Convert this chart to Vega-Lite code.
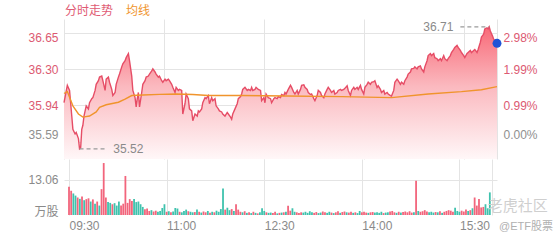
{
 "$schema": "https://vega.github.io/schema/vega-lite/v6.json",
 "padding": {"left": 27, "top": 5, "right": 4, "bottom": 0},
 "spacing": 0,
 "config": {
  "view": {"stroke": null},
  "font": "Liberation Sans, 'Noto Sans CJK SC', sans-serif",
  "axis": {"gridColor": "#e4e4e4", "gridWidth": 1, "domain": false, "ticks": false, "tickSize": 0, "title": null, "labelFontSize": 12, "labelFont": "Liberation Sans, 'Noto Sans CJK SC', sans-serif"}
 },
 "resolve": {"scale": {"color": "independent"}, "legend": {"color": "independent"}},
 "datasets": {
  "price": [
   {"m":0,"p":35.97},{"m":3,"p":36.14},{"m":5,"p":36.09},{"m":7,"p":35.84},{"m":8,"p":35.71},{"m":10,"p":35.665},{"m":11,"p":35.68},{"m":13,"p":35.62},{"m":14,"p":35.52},{"m":15,"p":35.53},{"m":16,"p":35.71},{"m":17,"p":35.75},{"m":18,"p":35.84},{"m":20,"p":35.94},{"m":22,"p":35.91},{"m":23,"p":35.97},{"m":25,"p":36.01},{"m":26,"p":36.02},{"m":28,"p":36.09},{"m":29,"p":36.15},{"m":31,"p":36.185},{"m":32,"p":36.22},{"m":34,"p":36.23},{"m":35,"p":36.185},{"m":37,"p":36.09},{"m":38,"p":36.2},{"m":40,"p":36.22},{"m":41,"p":36.17},{"m":43,"p":36.1},{"m":44,"p":36.04},{"m":46,"p":36.07},{"m":47,"p":36.15},{"m":49,"p":36.22},{"m":50,"p":36.25},{"m":52,"p":36.32},{"m":53,"p":36.35},{"m":55,"p":36.38},{"m":56,"p":36.41},{"m":58,"p":36.45},{"m":59,"p":36.38},{"m":61,"p":36.23},{"m":62,"p":36.09},{"m":64,"p":36.02},{"m":65,"p":35.93},{"m":66,"p":36.01},{"m":67,"p":36.07},{"m":68,"p":35.93},{"m":70,"p":36.07},{"m":71,"p":36.15},{"m":73,"p":36.185},{"m":74,"p":36.22},{"m":76,"p":36.23},{"m":77,"p":36.25},{"m":79,"p":36.28},{"m":80,"p":36.3},{"m":82,"p":36.27},{"m":83,"p":36.25},{"m":85,"p":36.22},{"m":86,"p":36.23},{"m":88,"p":36.185},{"m":89,"p":36.17},{"m":91,"p":36.2},{"m":92,"p":36.185},{"m":94,"p":36.2},{"m":95,"p":36.185},{"m":97,"p":36.15},{"m":98,"p":36.12},{"m":100,"p":36.07},{"m":101,"p":36.12},{"m":103,"p":36.09},{"m":104,"p":36.1},{"m":106,"p":36.09},{"m":107,"p":35.86},{"m":109,"p":35.96},{"m":110,"p":36.055},{"m":112,"p":36.01},{"m":113,"p":35.91},{"m":115,"p":35.89},{"m":116,"p":35.795},{"m":118,"p":35.86},{"m":120,"p":35.84},{"m":121,"p":35.89},{"m":122,"p":35.88},{"m":124,"p":35.91},{"m":125,"p":35.97},{"m":127,"p":36.02},{"m":128,"p":36.01},{"m":130,"p":36.04},{"m":131,"p":35.96},{"m":133,"p":36.02},{"m":134,"p":35.99},{"m":136,"p":36.01},{"m":137,"p":35.94},{"m":139,"p":35.91},{"m":140,"p":35.89},{"m":142,"p":35.88},{"m":143,"p":35.86},{"m":145,"p":35.84},{"m":147,"p":35.875},{"m":148,"p":35.86},{"m":150,"p":35.83},{"m":151,"p":35.81},{"m":152,"p":35.86},{"m":154,"p":35.91},{"m":156,"p":35.96},{"m":157,"p":36.01},{"m":159,"p":36.03},{"m":160,"p":36.055},{"m":161,"p":36.1},{"m":163,"p":36.12},{"m":165,"p":36.09},{"m":166,"p":36.1},{"m":168,"p":36.09},{"m":169,"p":36.12},{"m":170,"p":36.09},{"m":172,"p":36.1},{"m":173,"p":36.12},{"m":175,"p":36.1},{"m":177,"p":36.09},{"m":178,"p":35.99},{"m":180,"p":36.02},{"m":181,"p":35.97},{"m":182,"p":36.055},{"m":184,"p":36.02},{"m":186,"p":36.01},{"m":187,"p":35.97},{"m":189,"p":36.01},{"m":190,"p":36.02},{"m":192,"p":36.01},{"m":193,"p":36.03},{"m":195,"p":36.02},{"m":196,"p":36.05},{"m":198,"p":36.04},{"m":199,"p":36.07},{"m":200,"p":36.055},{"m":202,"p":36.1},{"m":204,"p":36.14},{"m":205,"p":36.12},{"m":207,"p":36.07},{"m":208,"p":36.055},{"m":210,"p":36.09},{"m":211,"p":36.055},{"m":213,"p":36.1},{"m":214,"p":36.14},{"m":216,"p":36.145},{"m":217,"p":36.12},{"m":219,"p":36.1},{"m":220,"p":36.07},{"m":222,"p":36.05},{"m":223,"p":36.055},{"m":225,"p":36.01},{"m":226,"p":35.99},{"m":228,"p":36.04},{"m":229,"p":36.09},{"m":231,"p":36.07},{"m":232,"p":36.04},{"m":234,"p":36.02},{"m":235,"p":36.055},{"m":237,"p":36.1},{"m":238,"p":36.12},{"m":240,"p":36.09},{"m":241,"p":36.07},{"m":243,"p":36.09},{"m":244,"p":36.055},{"m":246,"p":36.07},{"m":247,"p":36.09},{"m":249,"p":36.1},{"m":250,"p":36.09},{"m":252,"p":36.1},{"m":253,"p":36.11},{"m":255,"p":36.135},{"m":256,"p":36.09},{"m":258,"p":36.04},{"m":259,"p":36.09},{"m":261,"p":36.12},{"m":262,"p":36.1},{"m":264,"p":36.12},{"m":265,"p":36.1},{"m":267,"p":36.14},{"m":268,"p":36.1},{"m":270,"p":36.055},{"m":271,"p":36.12},{"m":273,"p":36.15},{"m":274,"p":36.17},{"m":276,"p":36.15},{"m":277,"p":36.17},{"m":279,"p":36.175},{"m":280,"p":36.185},{"m":282,"p":36.12},{"m":283,"p":36.135},{"m":285,"p":36.1},{"m":286,"p":36.07},{"m":288,"p":36.09},{"m":289,"p":36.055},{"m":291,"p":36.07},{"m":292,"p":36.055},{"m":294,"p":36.04},{"m":295,"p":36.035},{"m":297,"p":36.09},{"m":298,"p":36.17},{"m":300,"p":36.2},{"m":301,"p":36.185},{"m":303,"p":36.15},{"m":304,"p":36.17},{"m":306,"p":36.15},{"m":307,"p":36.185},{"m":309,"p":36.22},{"m":310,"p":36.25},{"m":312,"p":36.27},{"m":313,"p":36.3},{"m":315,"p":36.305},{"m":316,"p":36.32},{"m":318,"p":36.3},{"m":319,"p":36.32},{"m":321,"p":36.33},{"m":322,"p":36.3},{"m":324,"p":36.27},{"m":325,"p":36.32},{"m":327,"p":36.38},{"m":328,"p":36.43},{"m":330,"p":36.45},{"m":331,"p":36.43},{"m":333,"p":36.45},{"m":334,"p":36.41},{"m":336,"p":36.4},{"m":337,"p":36.38},{"m":339,"p":36.4},{"m":340,"p":36.38},{"m":342,"p":36.43},{"m":343,"p":36.4},{"m":345,"p":36.38},{"m":346,"p":36.4},{"m":348,"p":36.43},{"m":349,"p":36.46},{"m":351,"p":36.49},{"m":352,"p":36.51},{"m":354,"p":36.53},{"m":355,"p":36.51},{"m":357,"p":36.48},{"m":358,"p":36.46},{"m":360,"p":36.43},{"m":361,"p":36.41},{"m":363,"p":36.45},{"m":364,"p":36.46},{"m":366,"p":36.48},{"m":367,"p":36.46},{"m":369,"p":36.48},{"m":370,"p":36.49},{"m":372,"p":36.46},{"m":373,"p":36.49},{"m":375,"p":36.56},{"m":376,"p":36.61},{"m":378,"p":36.64},{"m":379,"p":36.69},{"m":381,"p":36.7},{"m":382,"p":36.69},{"m":383,"p":36.71},{"m":384,"p":36.67},{"m":386,"p":36.62},{"m":387,"p":36.59},{"m":390,"p":36.55}
  ],
  "avg": [
   {"m":0,"a":36.06},{"m":3,"a":36.08},{"m":8,"a":35.94},{"m":13,"a":35.86},{"m":17,"a":35.83},{"m":23,"a":35.84},{"m":29,"a":35.88},{"m":32,"a":35.925},{"m":38,"a":35.95},{"m":49,"a":35.975},{"m":55,"a":36.005},{"m":61,"a":36.04},{"m":71,"a":36.046},{"m":86,"a":36.052},{"m":101,"a":36.055},{"m":116,"a":36.05},{"m":130,"a":36.04},{"m":160,"a":36.04},{"m":200,"a":36.035},{"m":250,"a":36.03},{"m":295,"a":36.02},{"m":328,"a":36.055},{"m":358,"a":36.078},{"m":376,"a":36.097},{"m":390,"a":36.127}
  ],
  "extremes": [
   {"m":14,"m2":39,"p":35.52,"label":"35.52","kind":"low"},
   {"m":357,"m2":383,"p":36.71,"label":"36.71","kind":"high"}
  ],
  "vol": [
   {"m":0,"v":10.5,"d":"u"},{"m":2,"v":9.0,"d":"u"},{"m":4,"v":8.0,"d":"d"},{"m":6,"v":7.2,"d":"d"},{"m":8,"v":6.5,"d":"u"},{"m":10,"v":6.0,"d":"d"},{"m":12,"v":6.9,"d":"u"},{"m":14,"v":5.5,"d":"d"},{"m":16,"v":5.9,"d":"u"},{"m":18,"v":6.2,"d":"u"},{"m":20,"v":5.0,"d":"d"},{"m":22,"v":5.8,"d":"u"},{"m":24,"v":4.2,"d":"d"},{"m":26,"v":5.0,"d":"u"},{"m":28,"v":3.5,"d":"d"},{"m":30,"v":9.6,"d":"u"},{"m":32,"v":19.3,"d":"u"},{"m":34,"v":6.5,"d":"u"},{"m":36,"v":4.8,"d":"d"},{"m":38,"v":4.5,"d":"d"},{"m":40,"v":4.0,"d":"u"},{"m":42,"v":4.4,"d":"d"},{"m":44,"v":3.5,"d":"d"},{"m":46,"v":5.0,"d":"d"},{"m":48,"v":3.5,"d":"u"},{"m":50,"v":4.2,"d":"u"},{"m":52,"v":14.5,"d":"u"},{"m":54,"v":4.5,"d":"u"},{"m":56,"v":5.9,"d":"u"},{"m":58,"v":5.2,"d":"u"},{"m":60,"v":5.9,"d":"d"},{"m":62,"v":4.8,"d":"d"},{"m":64,"v":5.0,"d":"d"},{"m":66,"v":4.0,"d":"d"},{"m":68,"v":3.0,"d":"d"},{"m":70,"v":2.1,"d":"u"},{"m":72,"v":2.4,"d":"u"},{"m":74,"v":1.5,"d":"u"},{"m":76,"v":1.8,"d":"d"},{"m":78,"v":1.3,"d":"u"},{"m":80,"v":1.6,"d":"u"},{"m":82,"v":1.2,"d":"d"},{"m":84,"v":1.5,"d":"d"},{"m":86,"v":2.6,"d":"d"},{"m":88,"v":4.0,"d":"d"},{"m":90,"v":1.2,"d":"u"},{"m":92,"v":1.4,"d":"d"},{"m":94,"v":1.0,"d":"u"},{"m":96,"v":1.3,"d":"d"},{"m":98,"v":2.6,"d":"d"},{"m":100,"v":2.4,"d":"d"},{"m":102,"v":1.2,"d":"u"},{"m":104,"v":1.0,"d":"d"},{"m":106,"v":1.5,"d":"d"},{"m":108,"v":2.0,"d":"d"},{"m":110,"v":1.4,"d":"u"},{"m":112,"v":1.2,"d":"d"},{"m":114,"v":1.0,"d":"d"},{"m":116,"v":1.1,"d":"u"},{"m":118,"v":2.0,"d":"d"},
   {"m":120,"v":1.2,"d":"u"},{"m":122,"v":0.9,"d":"d"},{"m":124,"v":1.3,"d":"u"},{"m":126,"v":1.0,"d":"u"},{"m":128,"v":1.5,"d":"d"},{"m":130,"v":0.8,"d":"u"},{"m":132,"v":1.2,"d":"d"},{"m":134,"v":1.0,"d":"u"},{"m":136,"v":1.6,"d":"d"},{"m":138,"v":1.2,"d":"d"},{"m":140,"v":2.2,"d":"d"},{"m":142,"v":9.8,"d":"d"},{"m":144,"v":2.0,"d":"u"},{"m":146,"v":2.7,"d":"d"},{"m":148,"v":1.8,"d":"d"},{"m":150,"v":2.2,"d":"u"},{"m":152,"v":1.5,"d":"d"},{"m":154,"v":4.0,"d":"u"},{"m":156,"v":2.0,"d":"u"},{"m":158,"v":1.2,"d":"u"},{"m":160,"v":1.0,"d":"d"},{"m":162,"v":1.4,"d":"u"},{"m":164,"v":0.8,"d":"d"},{"m":166,"v":1.0,"d":"u"},{"m":168,"v":0.7,"d":"d"},{"m":170,"v":1.2,"d":"u"},{"m":172,"v":0.8,"d":"d"},{"m":174,"v":0.6,"d":"u"},{"m":176,"v":1.0,"d":"d"},{"m":178,"v":2.5,"d":"d"},{"m":180,"v":1.5,"d":"d"},{"m":182,"v":1.0,"d":"u"},{"m":184,"v":0.8,"d":"d"},{"m":186,"v":0.9,"d":"d"},{"m":188,"v":0.7,"d":"u"},{"m":190,"v":1.2,"d":"u"},{"m":192,"v":0.6,"d":"d"},{"m":194,"v":0.8,"d":"u"},{"m":196,"v":0.9,"d":"d"},{"m":198,"v":1.0,"d":"u"},{"m":200,"v":1.2,"d":"d"},{"m":202,"v":3.4,"d":"u"},{"m":204,"v":1.6,"d":"u"},{"m":206,"v":2.5,"d":"d"},{"m":208,"v":1.2,"d":"d"},{"m":210,"v":1.0,"d":"u"},{"m":212,"v":0.7,"d":"u"},{"m":214,"v":1.0,"d":"u"},{"m":216,"v":0.9,"d":"d"},{"m":218,"v":1.2,"d":"d"},{"m":220,"v":0.8,"d":"d"},{"m":222,"v":1.4,"d":"d"},{"m":224,"v":1.0,"d":"d"},{"m":226,"v":0.8,"d":"u"},{"m":228,"v":1.1,"d":"u"},{"m":230,"v":0.7,"d":"d"},{"m":232,"v":0.9,"d":"d"},{"m":234,"v":1.3,"d":"u"},{"m":236,"v":1.0,"d":"u"},{"m":238,"v":0.8,"d":"d"},{"m":240,"v":1.2,"d":"d"},{"m":242,"v":0.9,"d":"u"},{"m":244,"v":0.7,"d":"d"},{"m":246,"v":1.0,"d":"u"},{"m":248,"v":1.4,"d":"u"},{"m":250,"v":0.8,"d":"d"},{"m":252,"v":1.1,"d":"u"},{"m":254,"v":1.3,"d":"u"},{"m":256,"v":1.0,"d":"d"},{"m":258,"v":0.9,"d":"u"},{"m":260,"v":1.2,"d":"u"},{"m":262,"v":0.8,"d":"d"},{"m":264,"v":1.0,"d":"u"},{"m":266,"v":0.7,"d":"d"},{"m":268,"v":1.5,"d":"d"},{"m":270,"v":1.0,"d":"u"},{"m":272,"v":1.2,"d":"u"},{"m":274,"v":0.9,"d":"u"},{"m":276,"v":0.8,"d":"d"},{"m":278,"v":1.0,"d":"u"},{"m":280,"v":1.1,"d":"u"},{"m":282,"v":0.9,"d":"d"},{"m":284,"v":1.0,"d":"d"},{"m":286,"v":0.8,"d":"d"},{"m":288,"v":1.2,"d":"d"},{"m":290,"v":0.7,"d":"u"},{"m":292,"v":0.9,"d":"d"},{"m":294,"v":1.0,"d":"d"},{"m":296,"v":1.3,"d":"u"},{"m":298,"v":1.5,"d":"u"},{"m":300,"v":1.0,"d":"u"},{"m":302,"v":0.8,"d":"d"},{"m":304,"v":1.2,"d":"u"},{"m":306,"v":0.9,"d":"d"},{"m":308,"v":1.1,"d":"u"},{"m":310,"v":1.3,"d":"u"},{"m":312,"v":1.0,"d":"u"},{"m":314,"v":1.4,"d":"u"},{"m":316,"v":0.9,"d":"u"},{"m":318,"v":1.0,"d":"d"},{"m":320,"v":12.7,"d":"u"},{"m":322,"v":1.5,"d":"d"},{"m":324,"v":1.2,"d":"u"},{"m":326,"v":1.4,"d":"u"},{"m":328,"v":1.8,"d":"u"},{"m":330,"v":1.3,"d":"u"},{"m":332,"v":1.0,"d":"d"},{"m":334,"v":1.2,"d":"d"},{"m":336,"v":0.9,"d":"d"},{"m":338,"v":1.1,"d":"u"},{"m":340,"v":1.0,"d":"d"},{"m":342,"v":1.4,"d":"u"},{"m":344,"v":0.8,"d":"d"},{"m":346,"v":1.2,"d":"u"},{"m":348,"v":1.5,"d":"u"},{"m":350,"v":1.8,"d":"u"},{"m":352,"v":1.6,"d":"u"},{"m":354,"v":1.2,"d":"u"},{"m":356,"v":2.7,"d":"d"},{"m":358,"v":1.5,"d":"d"},{"m":360,"v":1.2,"d":"d"},{"m":362,"v":1.6,"d":"u"},{"m":364,"v":1.3,"d":"u"},{"m":366,"v":2.0,"d":"u"},{"m":368,"v":1.5,"d":"d"},{"m":370,"v":1.8,"d":"u"},{"m":372,"v":2.5,"d":"d"},{"m":374,"v":6.5,"d":"u"},{"m":376,"v":3.5,"d":"u"},{"m":378,"v":5.9,"d":"u"},{"m":380,"v":2.8,"d":"u"},{"m":382,"v":3.0,"d":"u"},{"m":384,"v":4.0,"d":"d"},{"m":386,"v":2.5,"d":"d"},{"m":388,"v":8.4,"d":"d"}
  ],
  "marks": [
   {"m":386,"v":3.4,"text":"老虎社区","kind":"logo"},
   {"m":390,"v":0,"text":"@ETF股票","kind":"credit"}
  ]
 },
 "vconcat": [
  {
   "width": 433,
   "height": 140,
   "resolve": {"axis": {"y": "independent"}},
   "layer": [
    {
     "data": {"name": "price"},
     "mark": {"type": "area", "color": {"gradient": "linear", "x1": 1, "x2": 1, "y1": 0, "y2": 1, "stops": [{"offset": 0, "color": "#f86a78"}, {"offset": 0.45, "color": "#fbb9bf"}, {"offset": 1, "color": "#fff7f8"}]}},
     "encoding": {
      "x": {"field": "m", "type": "quantitative", "scale": {"domain": [0, 390], "nice": false, "zero": false}, "axis": {"values": [0, 90, 180, 270, 360, 390], "labels": false, "grid": true}},
      "y": {"field": "p", "type": "quantitative", "scale": {"domain": [35.421, 36.787], "nice": false, "zero": false}, "axis": {"orient": "left", "values": [35.59, 35.9435, 36.297, 36.6505], "format": ".2f", "labelPadding": 6, "grid": true, "labelColor": {"condition": {"test": "datum.value < 35.6", "value": "#8f8f8f"}, "value": "#dc5a72"}, "labelBaseline": {"condition": [{"test": "datum.value > 36.6", "value": "top"}, {"test": "datum.value < 35.6", "value": "bottom"}], "value": "middle"}}},
      "y2": {"datum": 35.421}
     }
    },
    {
     "data": {"name": "price"},
     "mark": {"type": "line", "strokeWidth": 1.4},
     "encoding": {
      "x": {"field": "m", "type": "quantitative"},
      "y": {"field": "p", "type": "quantitative", "axis": {"orient": "right", "values": [35.59, 35.9435, 36.297, 36.6505], "labelExpr": "format((datum.value/35.59-1)*100, '.2f') + '%'", "labelPadding": 6, "grid": false, "labelColor": {"condition": {"test": "datum.value < 35.6", "value": "#8f8f8f"}, "value": "#dc5a72"}, "labelBaseline": {"condition": [{"test": "datum.value > 36.6", "value": "top"}, {"test": "datum.value < 35.6", "value": "bottom"}], "value": "middle"}}},
      "color": {"datum": "分时走势", "type": "nominal", "scale": {"domain": ["分时走势", "均线"], "range": ["#e64d66", "#f0942c"]}, "legend": {"orient": "top", "title": null, "symbolSize": 0, "symbolOpacity": 0, "symbolStrokeWidth": 0, "labelOffset": -11, "labelFontSize": 12, "columnPadding": 11, "padding": 0, "offset": 2, "encode": {"labels": {"update": {"fill": {"signal": "datum.value === '均线' ? '#f0952e' : '#df5b74'"}}}}}}
     }
    },
    {
     "data": {"name": "avg"},
     "mark": {"type": "line", "strokeWidth": 1.4},
     "encoding": {
      "x": {"field": "m", "type": "quantitative"},
      "y": {"field": "a", "type": "quantitative", "axis": null},
      "color": {"datum": "均线", "type": "nominal"}
     }
    },
    {
     "data": {"name": "extremes"},
     "mark": {"type": "rule", "strokeDash": [4, 3], "color": "#9a9a9a", "strokeWidth": 1.2},
     "encoding": {
      "x": {"field": "m", "type": "quantitative"},
      "x2": {"field": "m2"},
      "y": {"field": "p", "type": "quantitative", "axis": null}
     }
    },
    {
     "data": {"name": "extremes"},
     "transform": [{"filter": "datum.kind === 'low'"}],
     "mark": {"type": "text", "align": "left", "baseline": "middle", "dx": 6, "fontSize": 12, "color": "#8a8a8a"},
     "encoding": {
      "x": {"field": "m2", "type": "quantitative"},
      "y": {"field": "p", "type": "quantitative", "axis": null},
      "text": {"field": "label"}
     }
    },
    {
     "data": {"name": "extremes"},
     "transform": [{"filter": "datum.kind === 'high'"}],
     "mark": {"type": "text", "align": "right", "baseline": "middle", "dx": -7, "fontSize": 12, "color": "#8a8a8a"},
     "encoding": {
      "x": {"field": "m", "type": "quantitative"},
      "y": {"field": "p", "type": "quantitative", "axis": null},
      "text": {"field": "label"}
     }
    },
    {
     "data": {"name": "price"},
     "transform": [{"filter": "datum.m === 390"}],
     "mark": {"type": "circle", "size": 80, "color": "#1f53d6", "opacity": 1},
     "encoding": {
      "x": {"field": "m", "type": "quantitative"},
      "y": {"field": "p", "type": "quantitative", "axis": null}
     }
    }
   ]
  },
  {
   "width": 433,
   "height": 56,
   "layer": [
    {
     "data": {"name": "vol"},
     "mark": {"type": "bar", "size": 1.8},
     "encoding": {
      "x": {"field": "m", "type": "quantitative", "scale": {"domain": [0, 390], "nice": false, "zero": false}, "axis": {"values": [0, 90, 180, 270, 360, 390], "labelExpr": "datum.value == 390 ? '' : timeFormat(datetime(2000, 0, 1, 9, 30 + datum.value), '%H:%M')", "labelAlign": "left", "labelPadding": 5, "labelColor": "#8a8a8a", "grid": true, "labelFlush": false}},
      "y": {"field": "v", "type": "quantitative", "scale": {"domain": [0, 20.8], "nice": false}, "axis": {"values": [0, 13.06], "labelExpr": "datum.value == 0 ? '万股' : format(datum.value, '.2f')", "labelPadding": 6, "labelColor": "#8a8a8a", "grid": true, "gridColor": {"condition": {"test": "datum.value == 0", "value": "transparent"}, "value": "#e4e4e4"}, "labelBaseline": {"condition": {"test": "datum.value == 0", "value": "alphabetic"}, "value": "middle"}}},
      "color": {"field": "d", "type": "nominal", "scale": {"domain": ["u", "d"], "range": ["#f2657c", "#3fc2ad"]}, "legend": null}
     }
    },
    {
     "data": {"name": "marks"},
     "transform": [{"filter": "datum.kind === 'logo'"}],
     "mark": {"type": "text", "align": "left", "baseline": "middle", "fontSize": 15, "color": "#cfcfcf", "clip": false},
     "encoding": {
      "x": {"field": "m", "type": "quantitative"},
      "y": {"field": "v", "type": "quantitative"},
      "text": {"field": "text"}
     }
    },
    {
     "data": {"name": "marks"},
     "transform": [{"filter": "datum.kind === 'credit'"}],
     "mark": {"type": "text", "align": "left", "baseline": "top", "dx": 7, "dy": 6, "fontSize": 11, "color": "#b0b0b0", "clip": false},
     "encoding": {
      "x": {"field": "m", "type": "quantitative"},
      "y": {"field": "v", "type": "quantitative"},
      "text": {"field": "text"}
     }
    }
   ]
  }
 ]
}
